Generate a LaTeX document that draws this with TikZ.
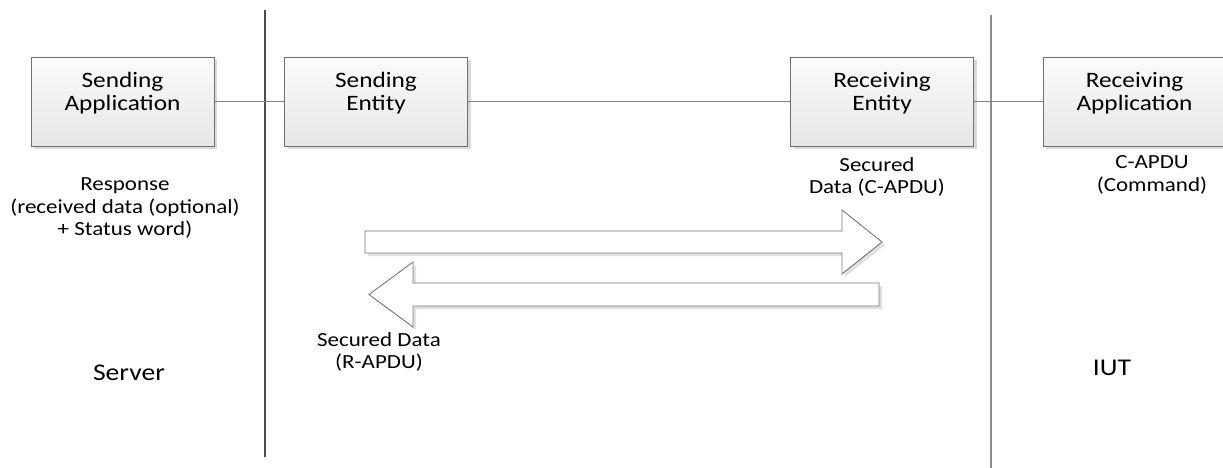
\documentclass[tikz,border=0pt]{standalone}
\usepackage{fontspec}
\setmainfont{Carlito}[FakeStretch=1.15]
\usepackage{tikz}
\usetikzlibrary{shadows}

\definecolor{boxline}{HTML}{707070}
\definecolor{boxtop}{HTML}{FBFBFB}
\definecolor{boxbot}{HTML}{E6E6E6}
\definecolor{wireline}{HTML}{808080}
\definecolor{arrowline}{HTML}{787878}

\tikzset{
  entbox/.style={draw=boxline, line width=0.9pt, top color=boxtop, bottom color=boxbot,
    minimum width=183pt, minimum height=89pt, inner sep=0pt,
    drop shadow={shadow xshift=3pt, shadow yshift=-3pt, fill=black!15, opacity=1}},
  boxtext/.style={font=\fontsize{22}{23}\selectfont, align=center},
  note/.style={font=\fontsize{20}{22.5}\selectfont, align=center},
  bignote/.style={font=\fontsize{24}{26}\selectfont},
  wire/.style={draw=wireline, line width=0.9pt},
  bigarrow/.style={draw=arrowline, fill=white, line width=0.9pt,
    drop shadow={shadow xshift=3pt, shadow yshift=-3pt, fill=black!12, opacity=1}}
}

\begin{document}
\begin{tikzpicture}[x=1pt, y=-1pt]
\useasboundingbox (0,0) rectangle (1223,468);

% the two side borders
\coordinate (srvtop) at (265,10);
\coordinate (srvbot) at (265,457);
\coordinate (iuttop) at (991,15);
\coordinate (iutbot) at (991,468);
\draw[draw=black!70, line width=1.2pt] (srvtop) -- (srvbot);
\draw[draw=black!45, line width=1.2pt] (iuttop) -- (iutbot);

% boxes
\node[entbox, label={[boxtext, yshift=8pt]center:Sending\\Application}] (sendapp) at (122.5,101.5) {};
\node[entbox, label={[boxtext, yshift=8pt]center:Sending\\Entity}] (sendent) at (376,101.5) {};
\node[entbox, label={[boxtext, yshift=8pt]center:Receiving\\Entity}] (recvent) at (882,101.5) {};
\node[entbox, label={[boxtext, yshift=8pt]center:Receiving\\Application}] (recvapp) at (1134.5,101.5) {};

\draw[wire] (sendapp) -- (sendent);
\draw[wire] (sendent) -- (recvent);
\draw[wire] (recvent) -- (recvapp);

% block arrows
\draw[bigarrow] (365,231) -- (842,231) -- (842,210) -- (882,242) -- (842,274)
  -- (842,253) -- (365,253) -- cycle;
\draw[bigarrow] (879,283) -- (413,283) -- (413,262) -- (369,294.5) -- (413,327)
  -- (413,306) -- (879,306) -- cycle;

% labels
\node[note] (resp) at (125,208) {Response\\(received data (optional)\\+ Status word)};
\node[note] (secc) at (877,177) {Secured\\Data (C-APDU)};
\node[note] (capdu) at (1152,175) {C-APDU\\(Command)};
\node[note] (secr) at (379,352) {Secured Data\\(R-APDU)};
\node[bignote] (server) at (129,373) {Server};
\node[bignote] (iut) at (1112,368) {IUT};
\end{tikzpicture}
\end{document}
